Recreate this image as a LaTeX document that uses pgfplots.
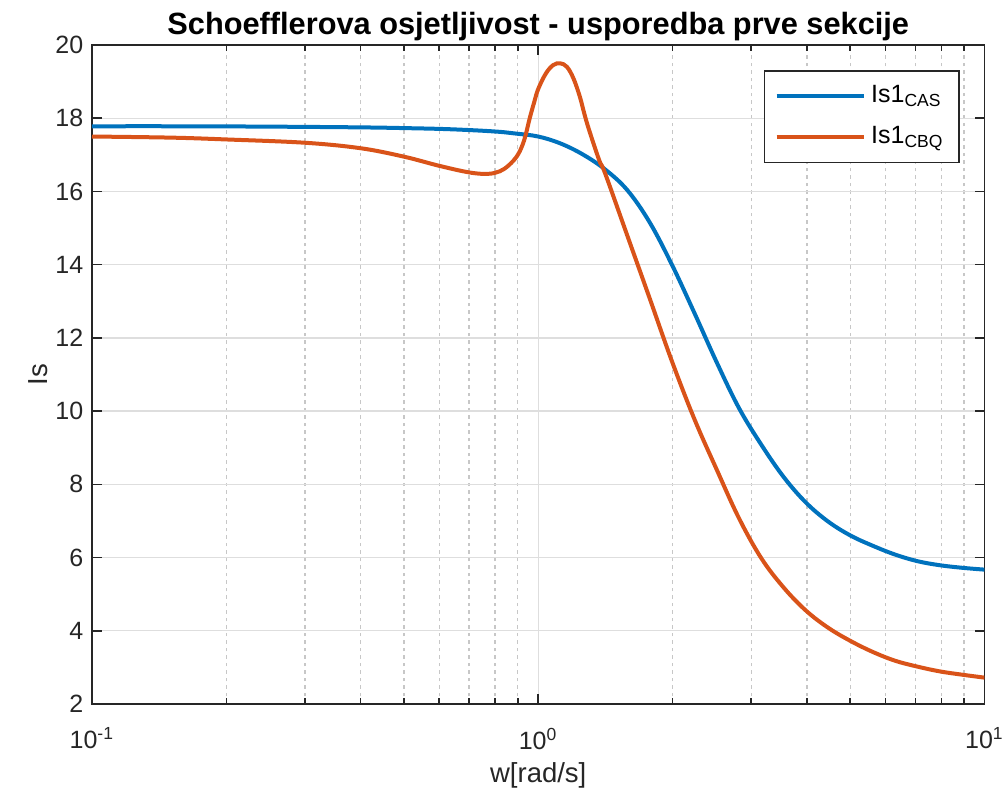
\documentclass[border=0pt]{standalone}
\usepackage{fontspec}
\setmainfont{Liberation Sans}
\usepackage{pgfplots}
\pgfplotsset{compat=1.18}

\definecolor{mblue}{HTML}{0072BD}
\definecolor{morange}{HTML}{D95319}
\definecolor{axgray}{HTML}{262626}

% Is1_CAS
\pgfplotstableread{
w       Is
0.1000  17.78
0.1585  17.78
0.2512  17.77
0.3981  17.75
0.5012  17.73
0.6310  17.70
0.7943  17.64
0.8913  17.58
1.0000  17.50
1.1220  17.31
1.2589  17.01
1.4125  16.60
1.5849  16.03
1.7783  15.15
1.9953  13.99
2.2387  12.68
2.5119  11.33
2.8184  10.08
3.1623   9.08
3.5481   8.20
3.9811   7.50
4.4668   6.98
5.0119   6.60
5.6234   6.32
6.3096   6.08
7.0795   5.90
7.9433   5.79
8.9125   5.72
10.000   5.67
}\cas

% Is1_CBQ
\pgfplotstableread{
w       Is
0.1000  17.50
0.1500  17.47
0.2000  17.42
0.3000  17.33
0.4000  17.18
0.5000  16.95
0.6000  16.70
0.7000  16.52
0.7700  16.48
0.8200  16.55
0.8600  16.72
0.9000  17.00
0.9300  17.40
0.9570  18.00
0.9800  18.45
1.0000  18.80
1.0400  19.22
1.0800  19.45
1.1200  19.50
1.1600  19.40
1.2000  19.08
1.2400  18.58
1.2700  18.10
1.3000  17.68
1.3700  16.85
1.4125  16.49
1.5849  14.78
1.7783  13.07
1.9953  11.35
2.2387   9.78
2.5119   8.40
2.8184   7.07
3.1623   5.98
3.5481   5.18
3.9811   4.55
4.4668   4.08
5.0119   3.72
5.6234   3.42
6.3096   3.18
7.0795   3.02
7.9433   2.89
8.9125   2.80
10.000   2.72
}\cbq

\begin{document}
\begin{tikzpicture}
\path[use as bounding box] (-36.8pt,-36.8pt) rectangle (366pt,281.6pt);
\begin{axis}[
    xmode=log,
    scale only axis,
    width=357pt, height=263.6pt,
    xmin=0.1, xmax=10, ymin=2, ymax=20,
    xtick={0.1,1,10},
    xticklabels={10\textsuperscript{-1},10\textsuperscript{0},10\textsuperscript{1}},
    ytick={2,4,...,20},
    /pgf/number format/assume math mode=true,
    xmajorgrids, xminorgrids, ymajorgrids,
    major grid style={color=black!13, line width=0.5pt},
    minor grid style={color=black!22, line width=0.5pt, dash pattern=on 1.5pt off 1.5pt},
    tick align=inside,
    major tick length=4pt, minor tick length=2.5pt,
    tick style={axgray, line width=0.6pt},
    axis line style={axgray, line width=0.6pt},
    tick label style={font=\fontsize{10}{12}\selectfont, text=axgray},
    xticklabel style={yshift=-6pt},
    title={Schoefflerova osjetljivost - usporedba prve sekcije},
    title style={font=\bfseries\fontsize{12.3}{14}\selectfont, yshift=-8pt},
    xlabel={w[rad/s]}, ylabel={Is},
    label style={font=\fontsize{11}{13}\selectfont, text=axgray},
    xlabel style={at={(axis description cs:0.5,-0.108)}, anchor=center},
    ylabel style={at={(axis description cs:-0.0605,0.5)}, anchor=center},
    legend style={at={(0.972,0.962)}, anchor=north east, draw=axgray,
        font=\fontsize{10}{12}\selectfont, cells={anchor=west},
        inner xsep=4pt, inner ysep=4pt, row sep=4pt, line width=0.6pt},
    legend image code/.code={\draw[#1, line width=1.6pt] (0pt,0pt) -- (35pt,0pt);},
]
\addplot[mblue, line width=1.6pt, smooth, tension=0.6] table[x=w, y=Is] {\cas};
\addlegendentry{Is1\textsubscript{CAS}}
\addplot[morange, line width=1.6pt, smooth, tension=0.6] table[x=w, y=Is] {\cbq};
\addlegendentry{Is1\textsubscript{CBQ}}
\end{axis}
\end{tikzpicture}
\end{document}
